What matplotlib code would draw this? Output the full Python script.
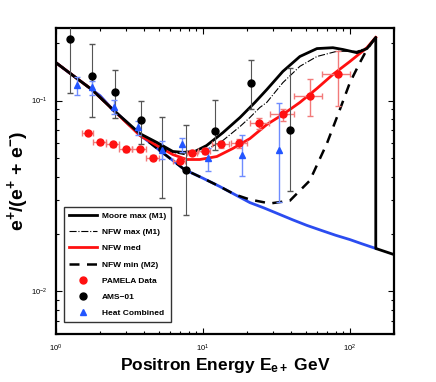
import matplotlib
matplotlib.use('Agg')
import matplotlib.pyplot as plt
from matplotlib.lines import Line2D

plt.rcParams['font.family'] = ['Liberation Sans', 'DejaVu Sans']
plt.rcParams['mathtext.fontset'] = 'custom'
plt.rcParams['mathtext.rm'] = 'Liberation Sans'
plt.rcParams['mathtext.bf'] = 'Liberation Sans:bold'
plt.rcParams['mathtext.it'] = 'Liberation Sans:italic'

# Background (secondary positrons)
bg_E = [1.0, 1.2, 1.4, 1.76, 2.0, 2.44, 3.0, 3.73, 4.4, 5.1, 6.2, 7.5, 10, 13,
        16, 20.9, 26, 33.4, 41, 50.9, 65, 80, 100, 120, 150]
bg_frac = [0.158, 0.142, 0.130, 0.114, 0.106, 0.0897, 0.0777, 0.066, 0.0599, 0.0547,
           0.0488, 0.0435, 0.0392, 0.0355, 0.0326, 0.0292, 0.0274, 0.0253, 0.0237,
           0.0222, 0.0208, 0.0197, 0.0187, 0.0178, 0.0168]

# Moore max (M1)
moore_E = [1.0, 1.4, 1.76, 2.44, 3.73, 4.87, 6.25, 7.31, 8.83, 10.6, 13.7, 17.9, 22.6,
           27.2, 35.0, 45.7, 59.7, 76.6, 89.6, 111.6, 130.6, 150, 150, 200]
moore_frac = [0.158, 0.130, 0.114, 0.0897, 0.0671, 0.0603, 0.0541, 0.0535, 0.0541,
              0.0581, 0.0679, 0.0815, 0.0977, 0.114, 0.142, 0.170, 0.187, 0.189,
              0.185, 0.178, 0.187, 0.214, 0.0168, 0.0156]

# NFW max (M1)
nfwmax_E = [1.0, 1.4, 1.76, 2.44, 3.73, 4.87, 6.25, 7.54, 9.1, 10.6, 13.7, 17.9, 20.9,
            24.4, 27.2, 35.0, 45.7, 59.7, 81.6, 111.6, 130.6, 150]
nfwmax_frac = [0.158, 0.130, 0.114, 0.0897, 0.0668, 0.0595, 0.0535, 0.0521, 0.0528,
               0.0553, 0.0618, 0.0731, 0.0815, 0.0919, 0.0977, 0.124, 0.151, 0.170,
               0.181, 0.181, 0.189, 0.214]

# NFW med
nfwmed_E = [1.0, 1.4, 1.76, 2.44, 3.73, 4.87, 6.25, 7.78, 9.55, 12.45, 16.0, 20.9, 27.2,
            35.0, 45.7, 59.7, 76.6, 100, 130.6, 150]
nfwmed_frac = [0.158, 0.130, 0.114, 0.0897, 0.0656, 0.0581, 0.0521, 0.0491, 0.0491,
               0.0509, 0.0561, 0.0632, 0.0748, 0.0845, 0.0977, 0.1156, 0.1368, 0.160,
               0.189, 0.214]

# NFW min (M2)
nfwmin_E = [1.0, 1.4, 1.76, 2.44, 3.73, 5.1, 7.5, 10, 13, 16.5, 20.9, 28.6, 39.1, 53.4,
            69.8, 85.5, 100, 117, 130.6, 150]
nfwmin_frac = [0.158, 0.130, 0.114, 0.0897, 0.066, 0.0547, 0.0435, 0.0392, 0.0355,
               0.0322, 0.0303, 0.0289, 0.0299, 0.0381, 0.0596, 0.0897, 0.124, 0.158,
               0.185, 0.214]

# PAMELA data
pam_E = [1.65, 1.99, 2.44, 3.0, 3.73, 4.57, 6.98, 8.42, 10.3, 13.3, 17.6, 24.0, 35.0, 53.4, 82.8]
pam_lo = [1.5, 1.8, 2.2, 2.7, 3.3, 4.1, 6.3, 7.8, 9.3, 11.5, 15.5, 21.0, 28.5, 42.0, 65.0]
pam_hi = [1.8, 2.2, 2.7, 3.3, 4.1, 5.0, 7.6, 9.1, 11.2, 15.0, 20.0, 28.0, 42.0, 65.0, 100.0]
pam_frac = [0.0679, 0.0609, 0.0589, 0.0554, 0.0554, 0.0503, 0.0485, 0.0534, 0.0547,
            0.0589, 0.0596, 0.0758, 0.0845, 0.106, 0.138]
pam_err = [0.0015, 0.0015, 0.0015, 0.0015, 0.0015, 0.0015, 0.0015, 0.0018, 0.002,
           0.0025, 0.003, 0.005, 0.006, 0.023, 0.044]

# AMS-01 data
ams_E = [1.24, 1.76, 2.52, 3.79, 5.26, 7.66, 12.1, 21.2, 39.1]
ams_frac = [0.211, 0.1336, 0.111, 0.0786, 0.056, 0.0431, 0.0689, 0.124, 0.0697]
ams_up = [0.10, 0.065, 0.034, 0.021, 0.0255, 0.031, 0.032, 0.038, 0.079]
ams_down = [0.102, 0.052, 0.0305, 0.0197, 0.025, 0.018, 0.0136, 0.034, 0.036]

# HEAT combined
heat_E = [1.39, 1.76, 2.48, 3.61, 5.26, 7.2, 10.8, 18.4, 32.9]
heat_frac = [0.120, 0.117, 0.093, 0.0723, 0.0553, 0.0589, 0.0497, 0.0521, 0.0553]
heat_up = [0.013, 0.010, 0.008, 0.006, 0.006, 0.005, 0.007, 0.014, 0.042]
heat_down = [0.013, 0.010, 0.008, 0.006, 0.006, 0.005, 0.007, 0.012, 0.026]

fig = plt.figure(figsize=(4.36, 3.82), dpi=100)
ax = fig.add_axes([0.128, 0.126, 0.776, 0.801])

red = '#ff1010'
blue = '#2255ff'

ax.plot(bg_E, bg_frac, color='#2b4cf0', lw=2.0)
ax.plot(nfwmin_E, nfwmin_frac, color='black', lw=1.8, ls=(0, (4, 3)))
ax.plot(nfwmax_E, nfwmax_frac, color='black', lw=0.8, ls='-.')
ax.plot(nfwmed_E, nfwmed_frac, color=red, lw=2.0)
ax.plot(moore_E, moore_frac, color='black', lw=2.0)

xerr = [[e - l for e, l in zip(pam_E, pam_lo)], [h - e for e, h in zip(pam_E, pam_hi)]]
ax.errorbar(pam_E, pam_frac, xerr=xerr, yerr=pam_err, fmt='o', color=red,
            ms=5, ecolor='#f27a7a', elinewidth=1.0, capsize=2, zorder=5)
ax.errorbar(ams_E, ams_frac, yerr=[ams_down, ams_up], fmt='o', color='black',
            ms=5, ecolor='#555555', elinewidth=0.8, capsize=2, zorder=5)
ax.errorbar(heat_E, heat_frac, yerr=[heat_down, heat_up], fmt='^', color=blue,
            ms=5, ecolor='#6f8cff', elinewidth=1.0, capsize=2, zorder=5)

ax.set_xscale('log')
ax.set_yscale('log')
ax.set_xlim(1, 200)
ax.set_ylim(0.006, 0.24)

for s in ax.spines.values():
    s.set_linewidth(1.6)
ax.tick_params(which='both', direction='in', top=True, right=True, labelsize=5.5, width=0.8)
ax.tick_params(which='major', length=4, pad=6)
ax.tick_params(which='minor', length=2)

ax.set_xlabel('Positron Energy E$_{\\mathbf{e+}}$ GeV', fontsize=12.5, fontweight='bold', labelpad=2)
ax.set_ylabel('e$^{\\mathbf{+}}$/(e$^{\\mathbf{+}}$ + e$^{\\mathbf{-}}$)', fontsize=14,
              fontweight='bold', labelpad=0)

handles = [
    Line2D([], [], color='black', lw=2.0),
    Line2D([], [], color='black', lw=0.8, ls='-.'),
    Line2D([], [], color=red, lw=2.0),
    Line2D([], [], color='black', lw=1.8, ls=(0, (4, 3))),
    Line2D([], [], color=red, marker='o', ls='none', ms=5),
    Line2D([], [], color='black', marker='o', ls='none', ms=5),
    Line2D([], [], color=blue, marker='^', ls='none', ms=5),
]
labels = ['Moore max (M1)', 'NFW max (M1)', 'NFW med', 'NFW min (M2)',
          'PAMELA Data', 'AMS\u221201', 'Heat Combined']
leg = ax.legend(handles, labels, loc='lower left', fontsize=6,
                frameon=True, fancybox=False, edgecolor='black', labelspacing=1.0,
                handlelength=3.3, handletextpad=0.6, borderpad=0.6,
                bbox_to_anchor=(0.012, 0.025))
leg.get_frame().set_linewidth(1.0)
for t in leg.get_texts():
    t.set_fontweight('bold')

plt.savefig('out.png', dpi=100)
